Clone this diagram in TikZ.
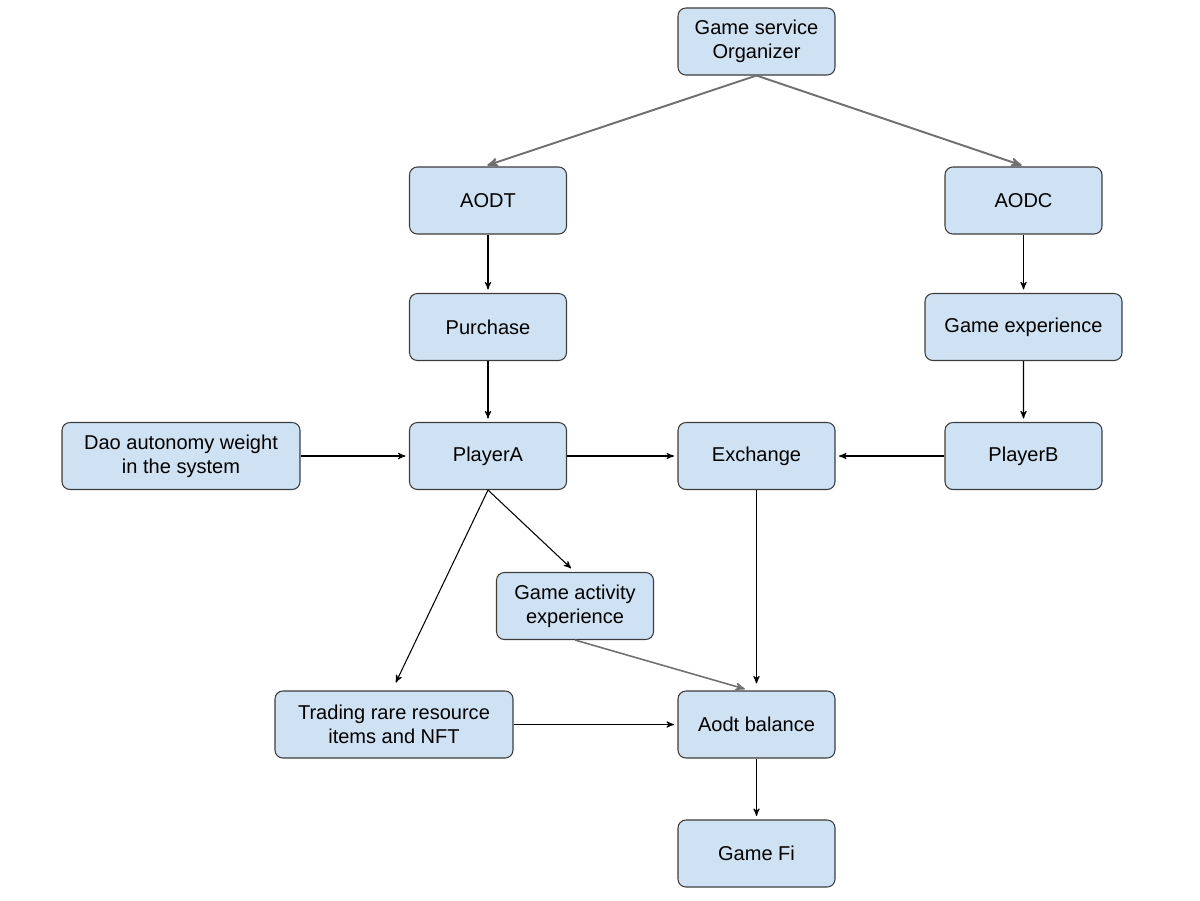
\documentclass[tikz,border=0pt]{standalone}
\usepackage{fontspec}
\setmainfont{Liberation Sans}
\usepackage{tikz}
\usetikzlibrary{arrows,shapes,positioning}

\definecolor{boxblue}{HTML}{CFE2F3}
\definecolor{boxline}{HTML}{3C3C3C}
\definecolor{grayline}{HTML}{707070}

\begin{document}
\begin{tikzpicture}[>=stealth',shorten >=2pt,auto,node distance=2.58cm,
                    font=\fontsize{11.4}{13.7}\selectfont,
                    block/.style={rectangle, rounded corners=4.5pt, draw=boxline,
                      line width=0.6pt, fill=boxblue, align=center,
                      minimum width=3.14cm, minimum height=1.34cm, inner sep=2pt},
                    wide/.style={block, minimum width=4.76cm},
                    line/.style={->, line width=0.6pt, black},
                    grayarrow/.style={->, line width=1.1pt, grayline}]
  \useasboundingbox (0,0) rectangle (24,-18);

  % Nodes
  \node[block] (org) at (15.13,-0.83) {Game service\\Organizer};
  \node[block] (aodt) at (9.76,-4.01) {AODT};
  \node[block] (aodc) at (20.47,-4.01) {AODC};
  \node[block] (purchase) at (9.76,-6.54) {Purchase};
  \node[block, minimum width=3.94cm] (gameexp) at (20.47,-6.54) {Game experience};
  \node[block, below of=purchase] (playera) {PlayerA};
  \node[block, right of=playera, node distance=5.37cm] (exchange) {Exchange};
  \node[block, right of=exchange, node distance=5.34cm] (playerb) {PlayerB};
  \node[wide, left of=playera, node distance=6.14cm] (dao) {Dao autonomy weight\\in the system};
  \node[block] (gameact) at (11.5,-12.12) {Game activity\\experience};
  \node[block, below of=exchange, node distance=5.37cm] (balance) {Aodt balance};
  \node[wide, left of=balance, node distance=7.25cm] (trading) {Trading rare resource\\items and NFT};
  \node[block, below of=balance] (gamefi) {Game Fi};

  % Edges
  \draw[grayarrow] (org.south) -- ([xshift=-0.08cm]aodt.north);
  \draw[grayarrow] (org.south) -- ([xshift=0.03cm]aodc.north);
  \draw[line] (aodt) -- (purchase);
  \draw[line] (purchase) -- (playera);
  \draw[line] (aodc) -- (gameexp);
  \draw[line] (gameexp) -- (playerb);
  \draw[line] (dao) -- (playera);
  \draw[line] (playera) -- (exchange);
  \draw[line] (playerb) -- (exchange);
  \draw[line, shorten >=3pt] (playera.south) -- (gameact.north);
  \draw[line, shorten >=5pt] (playera.south) -- ([xshift=-0.04cm]trading.north);
  \draw[line, shorten >=4pt] (exchange.south) -- (balance.north);
  \draw[grayarrow, line width=0.9pt, shorten >=3pt] (gameact.south) -- ([xshift=-0.13cm]balance.north);
  \draw[line] (trading) -- (balance);
  \draw[line] (balance) -- (gamefi);
\end{tikzpicture}
\end{document}
